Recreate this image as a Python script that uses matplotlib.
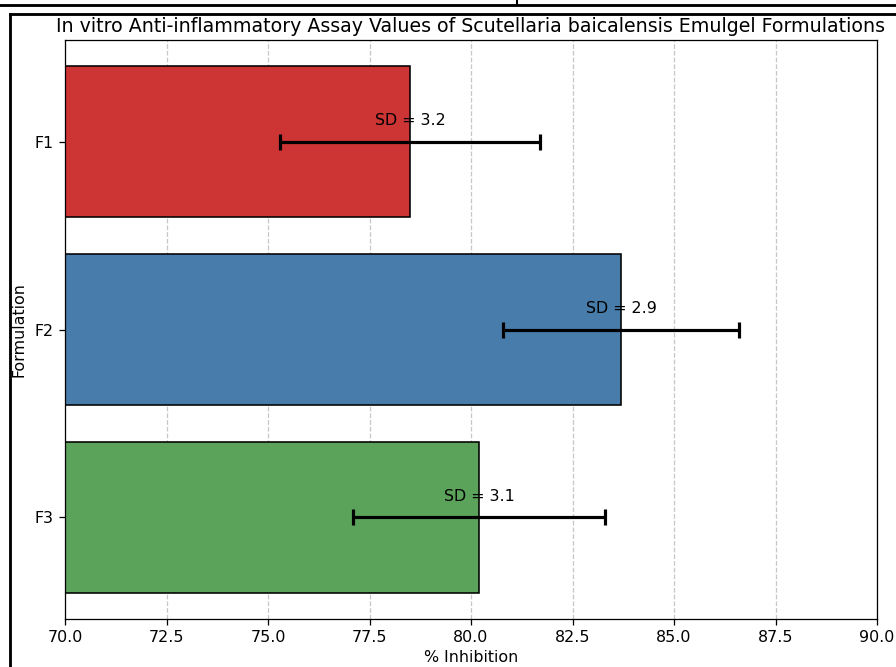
import matplotlib
matplotlib.use("Agg")
import matplotlib.pyplot as plt
from matplotlib.lines import Line2D

formulations = ["F1", "F2", "F3"]
inhibition = [78.5, 83.7, 80.2]
sd = [3.2, 2.9, 3.1]
colors = ["#cd3434", "#487caa", "#5ba35a"]
xticks = [70.0, 72.5, 75.0, 77.5, 80.0, 82.5, 85.0, 87.5, 90.0]

W, H = 896, 667
DPI = 114
fig = plt.figure(figsize=(W / DPI, H / DPI), dpi=DPI)
ax = fig.add_axes([65 / W, 1 - 619 / H, (877 - 65) / W, (619 - 40) / H])

ypos = list(range(len(formulations)))
ax.barh(ypos, inhibition, height=0.8, color=colors, edgecolor="black", zorder=2)
ax.errorbar(inhibition, ypos, xerr=sd, fmt="none", ecolor="black",
            elinewidth=2, capsize=5, capthick=2, zorder=3)
for y, v, s in zip(ypos, inhibition, sd):
    ax.text(v, y - 0.11, f"SD = {s}", ha="center", va="center", fontsize=10, zorder=4)

ax.set_yticks(ypos)
ax.set_yticklabels(formulations)
ax.invert_yaxis()
ax.set_xlim(70, 90)
ax.set_xticks(xticks)
ax.set_xticklabels([f"{t:.1f}" for t in xticks])
ax.grid(axis="x", linestyle="--", alpha=0.7, zorder=0)
ax.set_axisbelow(True)
ax.set_xlabel("% Inhibition", labelpad=3)
ax.set_ylabel("Formulation", va="center")
ax.yaxis.set_label_coords((19 - 65) / (877 - 65), 0.5)
ax.set_title("In vitro Anti-inflammatory Assay Values of Scutellaria baicalensis Emulgel Formulations",
             fontsize=12, pad=5)

# screenshot frame decorations
def fl(xs, ys, lw=1.8):
    fig.add_artist(Line2D([x / W for x in xs], [1 - y / H for y in ys],
                          color="black", linewidth=lw, transform=fig.transFigure))
fl([0, 896], [5, 5])
fl([517, 517], [0, 5], lw=1.3)
fl([10, 896], [14, 14])
fl([10, 10], [14, 667])

fig.savefig("out.png", dpi=DPI)
